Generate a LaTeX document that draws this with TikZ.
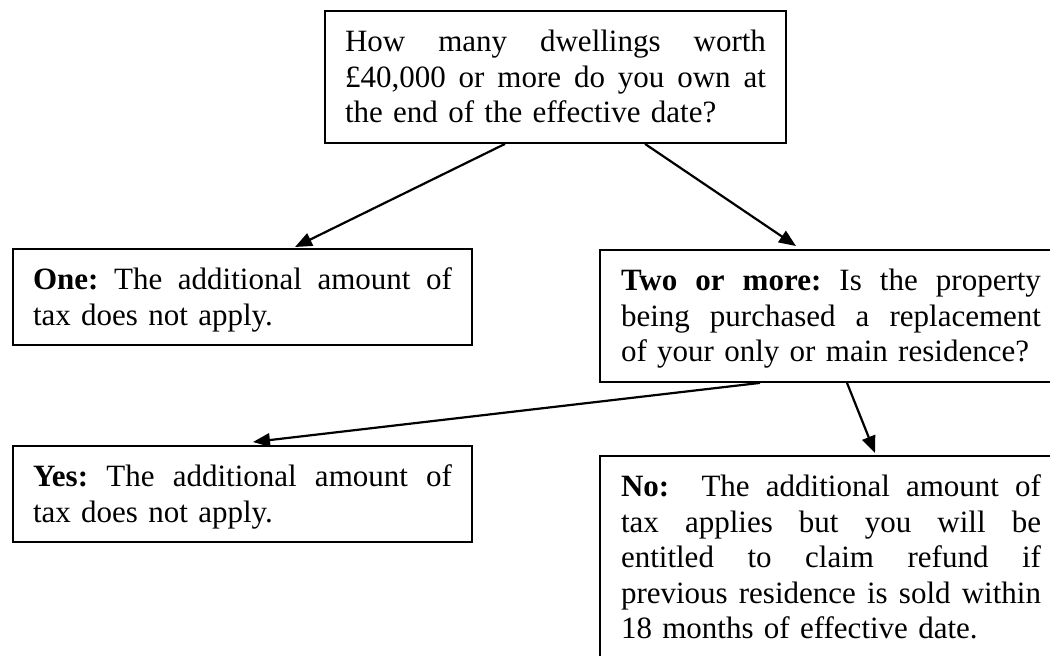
\documentclass[tikz,border=0pt]{standalone}
\usepackage{fontspec}
\setmainfont{Liberation Serif}
\usetikzlibrary{arrows.meta}
\frenchspacing
\newcommand{\mystrut}{\rule[-3.65pt]{0pt}{17.75pt}}
\newcommand{\jl}[2][209.5pt]{\leavevmode\hbox to #1{\spaceskip=\fontdimen2\font plus 1fil\relax\mystrut#2}}
\newcommand{\lastl}[1]{\leavevmode\mystrut#1}
\begin{document}
\begin{tikzpicture}[x=0.5pt,y=-0.5pt,
  box/.style={draw, line width=1pt, inner xsep=10pt, inner ysep=6.35pt,
    text width=209.5pt, align=left, anchor=north west,
    font=\fontsize{15.5}{17.75}\selectfont\frenchspacing},
  arr/.style={line width=1.1pt, -{Triangle[length=8.5pt,width=6.8pt]}}]
\useasboundingbox (0,0) rectangle (1050,655);
\clip (0,0) rectangle (1050,655);

\node[box, text width=210.5pt] (top) at (324,10) {%
\jl[210.5pt]{How many dwellings worth}\\
\jl[210.5pt]{£40,000 or more do you own at}\\
\lastl{the end of the effective date?}};

\node[box] (one) at (12,248) {%
\jl{\textbf{One:} The additional amount of}\\
\lastl{tax does not apply.}};

\node[box, text width=210pt, inner xsep=10.5pt] (two) at (599,249) {%
\jl[210pt]{\textbf{Two or more:} Is the property}\\
\jl[210pt]{being purchased a replacement}\\
\lastl{of your only or main residence?}};

\node[box] (yes) at (12,445) {%
\jl{\textbf{Yes:} The additional amount of}\\
\lastl{tax does not apply.}};

\node[box, text width=210pt, inner xsep=10.5pt] (no) at (599,455) {%
\jl[210pt]{\textbf{No:}\ \ The additional amount of}\\
\jl[210pt]{tax applies but you will be}\\
\jl[210pt]{entitled to claim refund if}\\
\jl[210pt]{previous residence is sold within}\\
\lastl{18 months of effective date.}};

\draw[arr] ([xshift=90.5pt]top.south west) -- ([xshift=141.5pt,yshift=0.5pt]one.north west);
\draw[arr] ([xshift=160.5pt]top.south west) -- ([xshift=98.5pt,yshift=1.5pt]two.north west);
\draw[arr] ([xshift=80.5pt]two.south west) -- ([xshift=120.5pt,yshift=1.5pt]yes.north west);
\draw[arr] ([xshift=124pt]two.south west) -- ([xshift=138pt,yshift=1pt]no.north west);
\end{tikzpicture}
\end{document}
